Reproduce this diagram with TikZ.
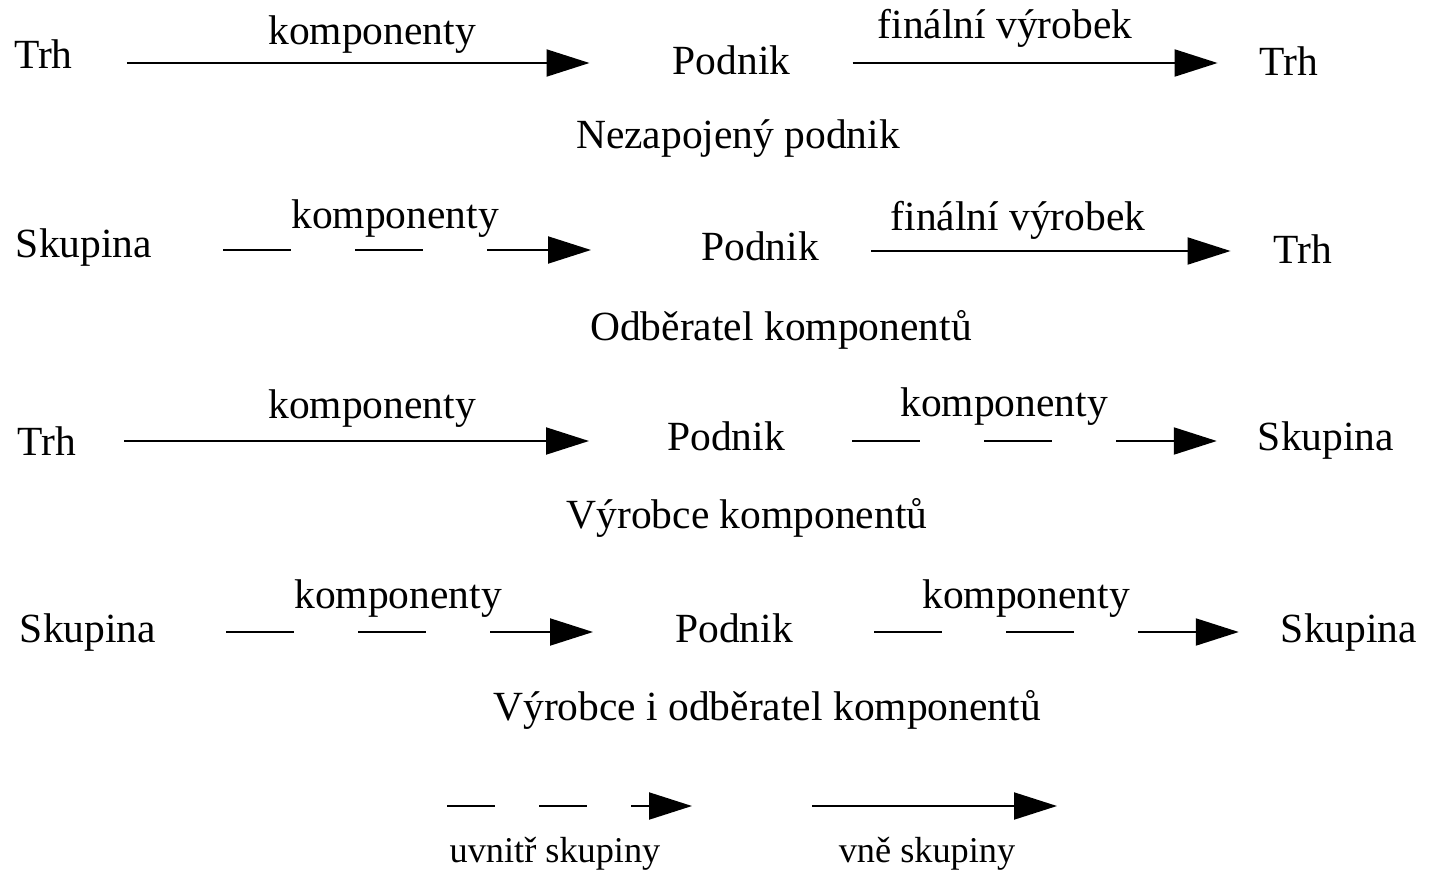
\documentclass[tikz,border=0pt]{standalone}
\usepackage{fontspec}
\setmainfont{Liberation Serif}
\usetikzlibrary{arrows.meta}
\begin{document}
\begin{tikzpicture}[x=1pt,y=-1pt,
  lbl/.style={inner sep=0pt,anchor=base,font=\fontsize{41.5}{48}\selectfont},
  leg/.style={inner sep=0pt,anchor=base,font=\fontsize{36.3}{42}\selectfont},
  arr/.style={line width=2pt,-{Triangle[length=43pt,width=27pt]}},
  grp/.style={arr,dash pattern=on 68pt off 64pt},
  leggrp/.style={arr,dash pattern=on 48pt off 44pt}]
\useasboundingbox (0,0) rectangle (1433,870);
% Row 1
\node[lbl] (t1a) at (43.5,68) {Trh};
\node[lbl] (k1a) at (372,44) {komponenty};
\node[lbl] (p1) at (731.5,74) {Podnik};
\node[lbl] (f1) at (1005,38) {finální výrobek};
\node[lbl] (t1b) at (1289,75) {Trh};
\node[lbl] (c1) at (738,148) {Nezapojený podnik};
\draw[arr,shorten <=54pt,shorten >=83pt] (t1a.east |- 0,63) -- (p1.west |- 0,63);
\draw[arr,shorten <=62pt,shorten >=42pt] (p1.east |- 0,63) -- (t1b.west |- 0,63);
% Row 2
\node[lbl] (s2a) at (84,257) {Skupina};
\node[lbl] (k2a) at (395,228) {komponenty};
\node[lbl] (p2) at (760,260) {Podnik};
\node[lbl] (f2) at (1018,230) {finální výrobek};
\node[lbl] (t2b) at (1303,263) {Trh};
\node[lbl] (c2) at (781,340) {Odběratel komponentů};
\draw[grp,shorten <=71pt,shorten >=110pt] (s2a.east |- 0,250) -- (p2.west |- 0,250);
\draw[arr,shorten <=52pt,shorten >=43pt] (p2.east |- 0,251) -- (t2b.west |- 0,251);
% Row 3
\node[lbl] (t3a) at (47,455) {Trh};
\node[lbl] (k3a) at (372,418) {komponenty};
\node[lbl] (p3) at (726,450) {Podnik};
\node[lbl] (k3b) at (1004,416) {komponenty};
\node[lbl] (s3b) at (1326,450) {Skupina};
\node[lbl] (c3) at (747,528) {Výrobce komponentů};
\draw[arr,shorten <=48pt,shorten >=78pt] (t3a.east |- 0,441) -- (p3.west |- 0,441);
\draw[grp,shorten <=67pt,shorten >=41pt] (p3.east |- 0,441) -- (s3b.west |- 0,441);
% Row 4
\node[lbl] (s4a) at (88,642) {Skupina};
\node[lbl] (k4a) at (398,608) {komponenty};
\node[lbl] (p4) at (734,642) {Podnik};
\node[lbl] (k4b) at (1026,608) {komponenty};
\node[lbl] (s4b) at (1349,642) {Skupina};
\node[lbl] (c4) at (767,720) {Výrobce i odběratel komponentů};
\draw[grp,shorten <=70pt,shorten >=82pt] (s4a.east |- 0,632) -- (p4.west |- 0,632);
\draw[grp,shorten <=81pt,shorten >=42pt] (p4.east |- 0,632) -- (s4b.west |- 0,632);
% Legend
\coordinate (l1s) at (447,806);
\coordinate (l1e) at (692,806);
\coordinate (l2s) at (812,806);
\coordinate (l2e) at (1057,806);
\draw[leggrp] (l1s) -- (l1e);
\draw[arr] (l2s) -- (l2e);
\node[leg] (u) at (555,862) {uvnitř skupiny};
\node[leg] (v) at (927,862) {vně skupiny};
\end{tikzpicture}
\end{document}
